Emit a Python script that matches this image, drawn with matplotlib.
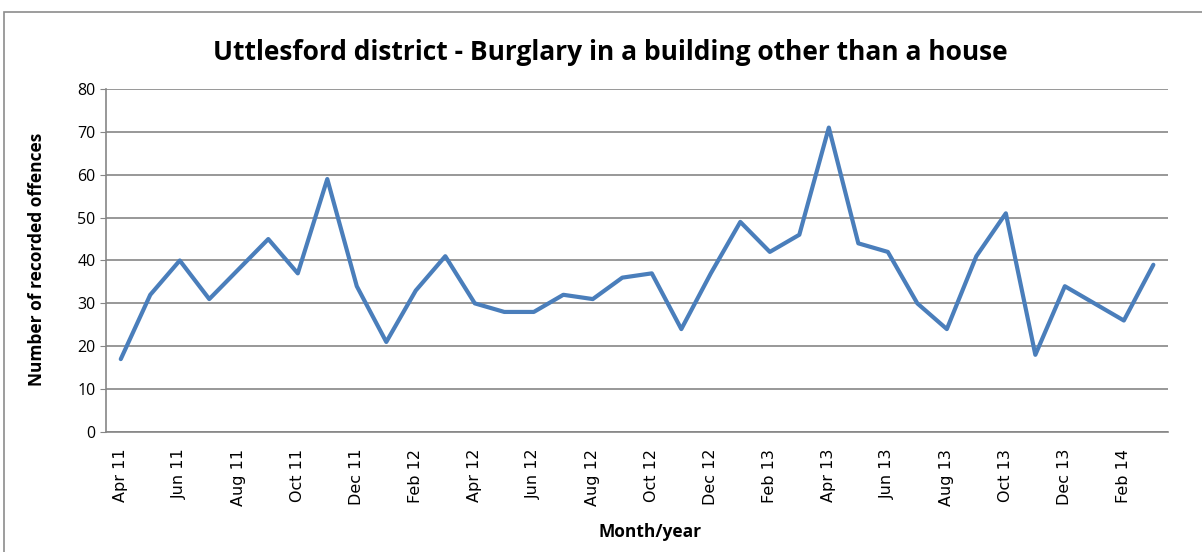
import matplotlib
matplotlib.use("Agg")
import matplotlib.pyplot as plt
from matplotlib.patches import Rectangle

# monthly counts, Apr 11 .. Mar 14
months = ["Apr 11", "May 11", "Jun 11", "Jul 11", "Aug 11", "Sep 11",
          "Oct 11", "Nov 11", "Dec 11", "Jan 12", "Feb 12", "Mar 12",
          "Apr 12", "May 12", "Jun 12", "Jul 12", "Aug 12", "Sep 12",
          "Oct 12", "Nov 12", "Dec 12", "Jan 13", "Feb 13", "Mar 13",
          "Apr 13", "May 13", "Jun 13", "Jul 13", "Aug 13", "Sep 13",
          "Oct 13", "Nov 13", "Dec 13", "Jan 14", "Feb 14", "Mar 14"]
offences = [17, 32, 40, 31, 38, 45, 37, 59, 34, 21, 33, 41,
            30, 28, 28, 32, 31, 36, 37, 24, 37, 49, 42, 46,
            71, 44, 42, 30, 24, 41, 51, 18, 34, 30, 26, 39]
y_ticks = [0, 10, 20, 30, 40, 50, 60, 70, 80]

fig = plt.figure(figsize=(12.02, 5.52), dpi=100)
ax = fig.add_axes([0.0882, 0.2174, 0.8836, 0.6214])

# chart border like the spreadsheet export
fig.patches.append(Rectangle((4 / 1202, -0.01), 1.0, 1 - 12 / 552 + 0.01,
                             transform=fig.transFigure, fill=False,
                             edgecolor="#8c8c8c", linewidth=1.2))

x = list(range(len(months)))
ax.plot(x, offences, color="#4A7EBB", linewidth=3.0, solid_joinstyle="round",
        solid_capstyle="round", zorder=3)

ax.set_xlim(-0.5, len(months) - 0.5)
ax.set_ylim(0, 80)
ax.set_yticks(y_ticks)
ax.grid(axis="y", color="#868686", linewidth=1.2)
ax.set_axisbelow(True)

ax.set_xticks(x[::2])
ax.set_xticklabels(months[::2], rotation=90, fontsize=11.5, family="DejaVu Sans")
ax.tick_params(axis="x", length=0, pad=12)
ax.tick_params(axis="y", length=4, color="#868686", labelsize=11.5)
for lab in ax.get_yticklabels():
    lab.set_family("Open Sans")

for side in ["top", "right"]:
    ax.spines[side].set_visible(False)
ax.spines["left"].set_color("#868686")
ax.spines["bottom"].set_color("#868686")
ax.spines["left"].set_linewidth(1.2)
ax.spines["bottom"].set_linewidth(1.2)

fig.text(0.508, 0.905, "Uttlesford district - Burglary in a building other than a house",
         ha="center", va="center", fontsize=19, fontweight="bold", family="Open Sans")
fig.text(0.031, 0.53, "Number of recorded offences", rotation=90,
         ha="center", va="center", fontsize=12.5, fontweight="bold", family="Open Sans")
fig.text(0.541, 0.036, "Month/year", ha="center", va="center",
         fontsize=12.5, fontweight="bold", family="Open Sans")

fig.savefig("out.png", dpi=100)
